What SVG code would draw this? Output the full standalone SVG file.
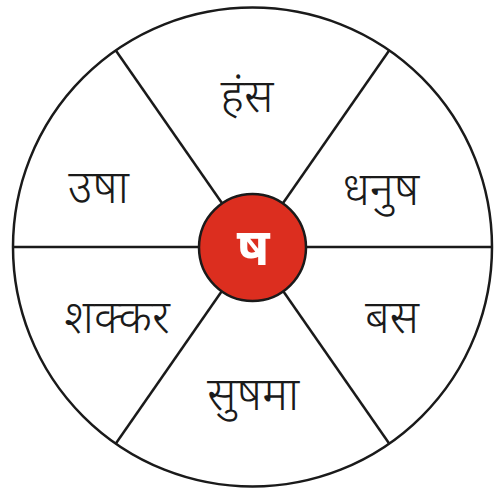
<svg xmlns="http://www.w3.org/2000/svg" width="499" height="497" viewBox="0 0 499 497">
<style>
.ln{stroke:#1a1a1a;stroke-width:2.5;fill:none}
.lbl{font-family:"Noto Sans","Noto Sans Devanagari","Lohit Devanagari",sans-serif;font-size:46px;font-weight:300;fill:#1a1a1a;text-anchor:middle}
.ctr{font-family:"Noto Sans","Noto Sans Devanagari",sans-serif;font-size:52px;font-weight:bold;fill:#ffffff;text-anchor:middle}
</style>
<rect width="499" height="497" fill="#ffffff"/>
<g id="wheel">
<circle class="ln" cx="252.5" cy="247" r="239.5"/>
</g>
<g id="connectors">
<line class="ln" x1="13" y1="247" x2="492" y2="247"/>
<line class="ln" x1="115.5" y1="50" x2="389.5" y2="444"/>
<line class="ln" x1="389.5" y1="50" x2="115.5" y2="444"/>
</g>
<g id="center">
<circle cx="252.5" cy="247.5" r="53.5" fill="#dc2e1f" stroke="#1a1a1a" stroke-width="2.5"/>
<text class="ctr" x="253" y="265">ष</text>
</g>
<g id="n1"><text class="lbl" x="247" y="112">हंस</text></g>
<g id="n2"><text class="lbl" x="381" y="205">धनुष</text></g>
<g id="n3"><text class="lbl" x="98.5" y="203">उषा</text></g>
<g id="n4"><text class="lbl" x="117" y="333">शक्कर</text></g>
<g id="n5"><text class="lbl" x="392" y="333">बस</text></g>
<g id="n6"><text class="lbl" x="253" y="410">सुषमा</text></g>
</svg>
